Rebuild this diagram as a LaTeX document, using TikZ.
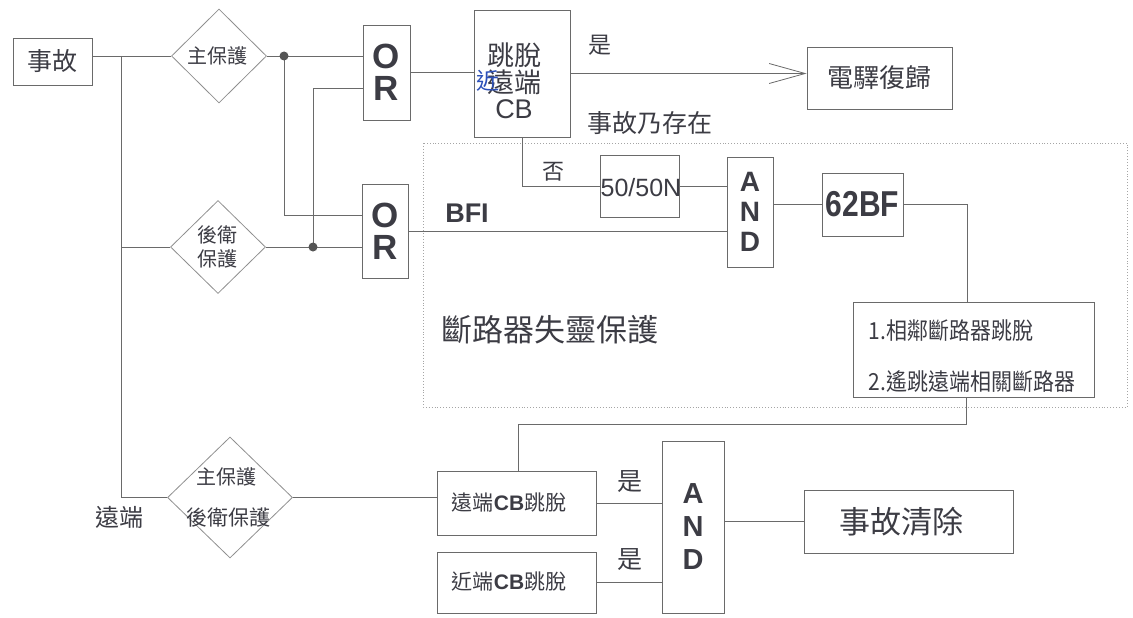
\documentclass[tikz,border=0pt]{standalone}
\usepackage{fontspec}
\setmainfont{Liberation Sans}
\newfontfamily\cjk{Noto Sans CJK TC}
\usetikzlibrary{shapes.geometric,arrows.meta}
\definecolor{ln}{HTML}{6A6A6A}
\definecolor{tx}{HTML}{3C3C44}
\definecolor{pen}{HTML}{2C50B8}
\newcommand\cj[1]{{\cjk #1}}
\newcommand\fs[2]{\fontsize{#1}{#2}\selectfont}
\begin{document}
\begin{tikzpicture}[x=1pt,y=-1pt,line width=0.8pt,color=ln,
  every node/.style={text=tx},
  blk/.style={draw=ln,rectangle,inner sep=0pt},
  dia/.style={draw=ln!75,diamond,inner sep=0pt},
  lbl/.style={inner sep=0pt},
  gate/.style={blk,font=\bfseries\fs{35}{32},align=center},
  jdot/.style={fill=ln!80!black}]
\useasboundingbox (0,0) rectangle (1133,618);
% dotted frame
\draw[ln!60,dotted,line width=0.9pt] (423,143) rectangle (1127,407);
% boxes
\node[blk,minimum width=79,minimum height=47,font=\cjk\fs{25}{28}] (shigu) at (52.5,61.5) {事故};
\node[dia,minimum width=95,minimum height=94] (d1) at (219,56) {};
\node[lbl,font=\cjk\fs{20}{24}] (d1t) at (217,56) {主保護};
\node[dia,minimum width=95,minimum height=93] (d2) at (218,247) {};
\node[lbl,font=\cjk\fs{20}{24},align=center] (d2t) at (217,247) {後衛\\保護};
\node[gate,minimum width=47,minimum height=95] (or1) at (386.5,72.5) {O\\R};
\node[gate,minimum width=46,minimum height=94] (or2) at (385,231) {O\\R};
\node[blk,minimum width=96,minimum height=127] (trip) at (522,73.5) {};
\node[lbl,font=\fs{27}{26.5},align=center] (tript) at (514,81) {\cj{跳脫}\\\cj{遠端}\\CB};
\node[lbl,font=\cjk\fs{23}{24},text=pen] (fix) at (488,81) {近};
\node[blk,minimum width=145,minimum height=62,font=\cjk\fs{26}{28}] (relay) at (879.5,78) {電驛復歸};
\node[lbl,font=\cjk\fs{23}{26}] (yes1) at (600,45) {是};
\node[lbl,font=\cjk\fs{25}{28}] (exist) at (650,123) {事故乃存在};
\node[lbl,font=\cjk\fs{22}{24}] (no) at (553,172) {否};
\node[blk,minimum width=79,minimum height=62] (n50) at (639.5,186) {};
\node[lbl,font=\fs{25}{27}] (n50t) at (641,188) {50/50N};
\node[gate,minimum width=46,minimum height=110,font=\bfseries\fs{28}{30}] (and1) at (750,212) {A\\N\\D};
\node[lbl,font=\bfseries\fs{27}{30}] (bfi) at (467,213) {BFI};
\node[blk,minimum width=81,minimum height=63,font=\bfseries\fs{30}{32}] (bf) at (862.5,204.5) {\scalebox{1}[1.2]{62BF}};
\node[blk,minimum width=241,minimum height=95] (act) at (973.5,349.5) {};
\node[lbl,font=\cjk\fs{21}{46},align=left,yscale=1.12] (actt) at (972,356) {1.相鄰斷路器跳脫\\2.遙跳遠端相關斷路器};
\node[lbl,font=\cjk\fs{31}{34}] (bfp) at (550,330) {斷路器失靈保護};
% bottom
\node[lbl,font=\cjk\fs{24}{26}] (far) at (119,517) {遠端};
\node[dia,minimum width=125,minimum height=121] (d3) at (230,497.5) {};
\node[lbl,font=\cjk\fs{20}{24}] (d3a) at (226,477) {主保護};
\node[lbl,font=\cjk\fs{21}{24}] (d3b) at (228,518) {後衛保護};
\node[blk,minimum width=159,minimum height=64] (rcb) at (516.5,503) {};
\node[lbl,font=\fs{21}{24}] (rcbt) at (509,503) {\cj{遠端}\textbf{CB}\cj{跳脫}};
\node[blk,minimum width=159,minimum height=61] (ncb) at (516.5,582.5) {};
\node[lbl,font=\fs{21}{24}] (ncbt) at (509,582) {\cj{近端}\textbf{CB}\cj{跳脫}};
\node[lbl,font=\cjk\fs{25}{28}] (yes2) at (630,482) {是};
\node[lbl,font=\cjk\fs{25}{28}] (yes3) at (630,560) {是};
\node[gate,minimum width=62,minimum height=172,font=\bfseries\fs{29}{33}] (and2) at (693,527) {A\\N\\D};
\node[blk,minimum width=209,minimum height=63] (clear) at (908.5,521.5) {};
\node[lbl,font=\cjk\fs{31}{32}] (cleart) at (901,521.5) {事故清除};
% coordinates
\coordinate (bT) at (121,56);
\coordinate (j1) at (284,56);
\coordinate (j2) at (313,247);
\coordinate (or1a) at (363,56);
\coordinate (or1b) at (363,88);
\coordinate (or2a) at (362,215);
\coordinate (or2b) at (362,247);
\coordinate (actin) at (967,302);
\coordinate (actout) at (966,397);
\coordinate (rcbtop) at (518,471);
% connectors
\draw (shigu.east |- d1.west) -- (d1.west);
\draw (bT) |- (d3.west);
\draw (bT |- d2.west) -- (d2.west);
\draw (d1.east) -- (or1a);
\draw (j1) |- (or2a);
\draw (d2.east) -- (or2b);
\draw (j2) |- (or1b);
\fill[jdot] (j1) circle (4.5);
\fill[jdot] (j2) circle (4.5);
\draw (or1.east) -- (or1.east -| trip.west);
\draw[-{Straight Barb[length=36pt,width=20pt]}] (trip.east) -- (trip.east -| relay.west);
\draw (trip.south) |- (n50.west);
\draw (n50.east) -- (n50.east -| and1.west);
\draw (or2.east) -- (or2.east -| and1.west);
\draw (and1.east |- bf.west) -- (bf.west);
\draw (bf.east) -| (actin);
\draw (actout) -- ++(0,27) -| (rcbtop);
\draw (d3.east) -- (d3.east -| rcb.west);
\draw (rcb.east) -- (rcb.east -| and2.west);
\draw (ncb.east) -- (ncb.east -| and2.west);
\draw (and2.east |- clear.west) -- (clear.west);
\end{tikzpicture}
\end{document}
